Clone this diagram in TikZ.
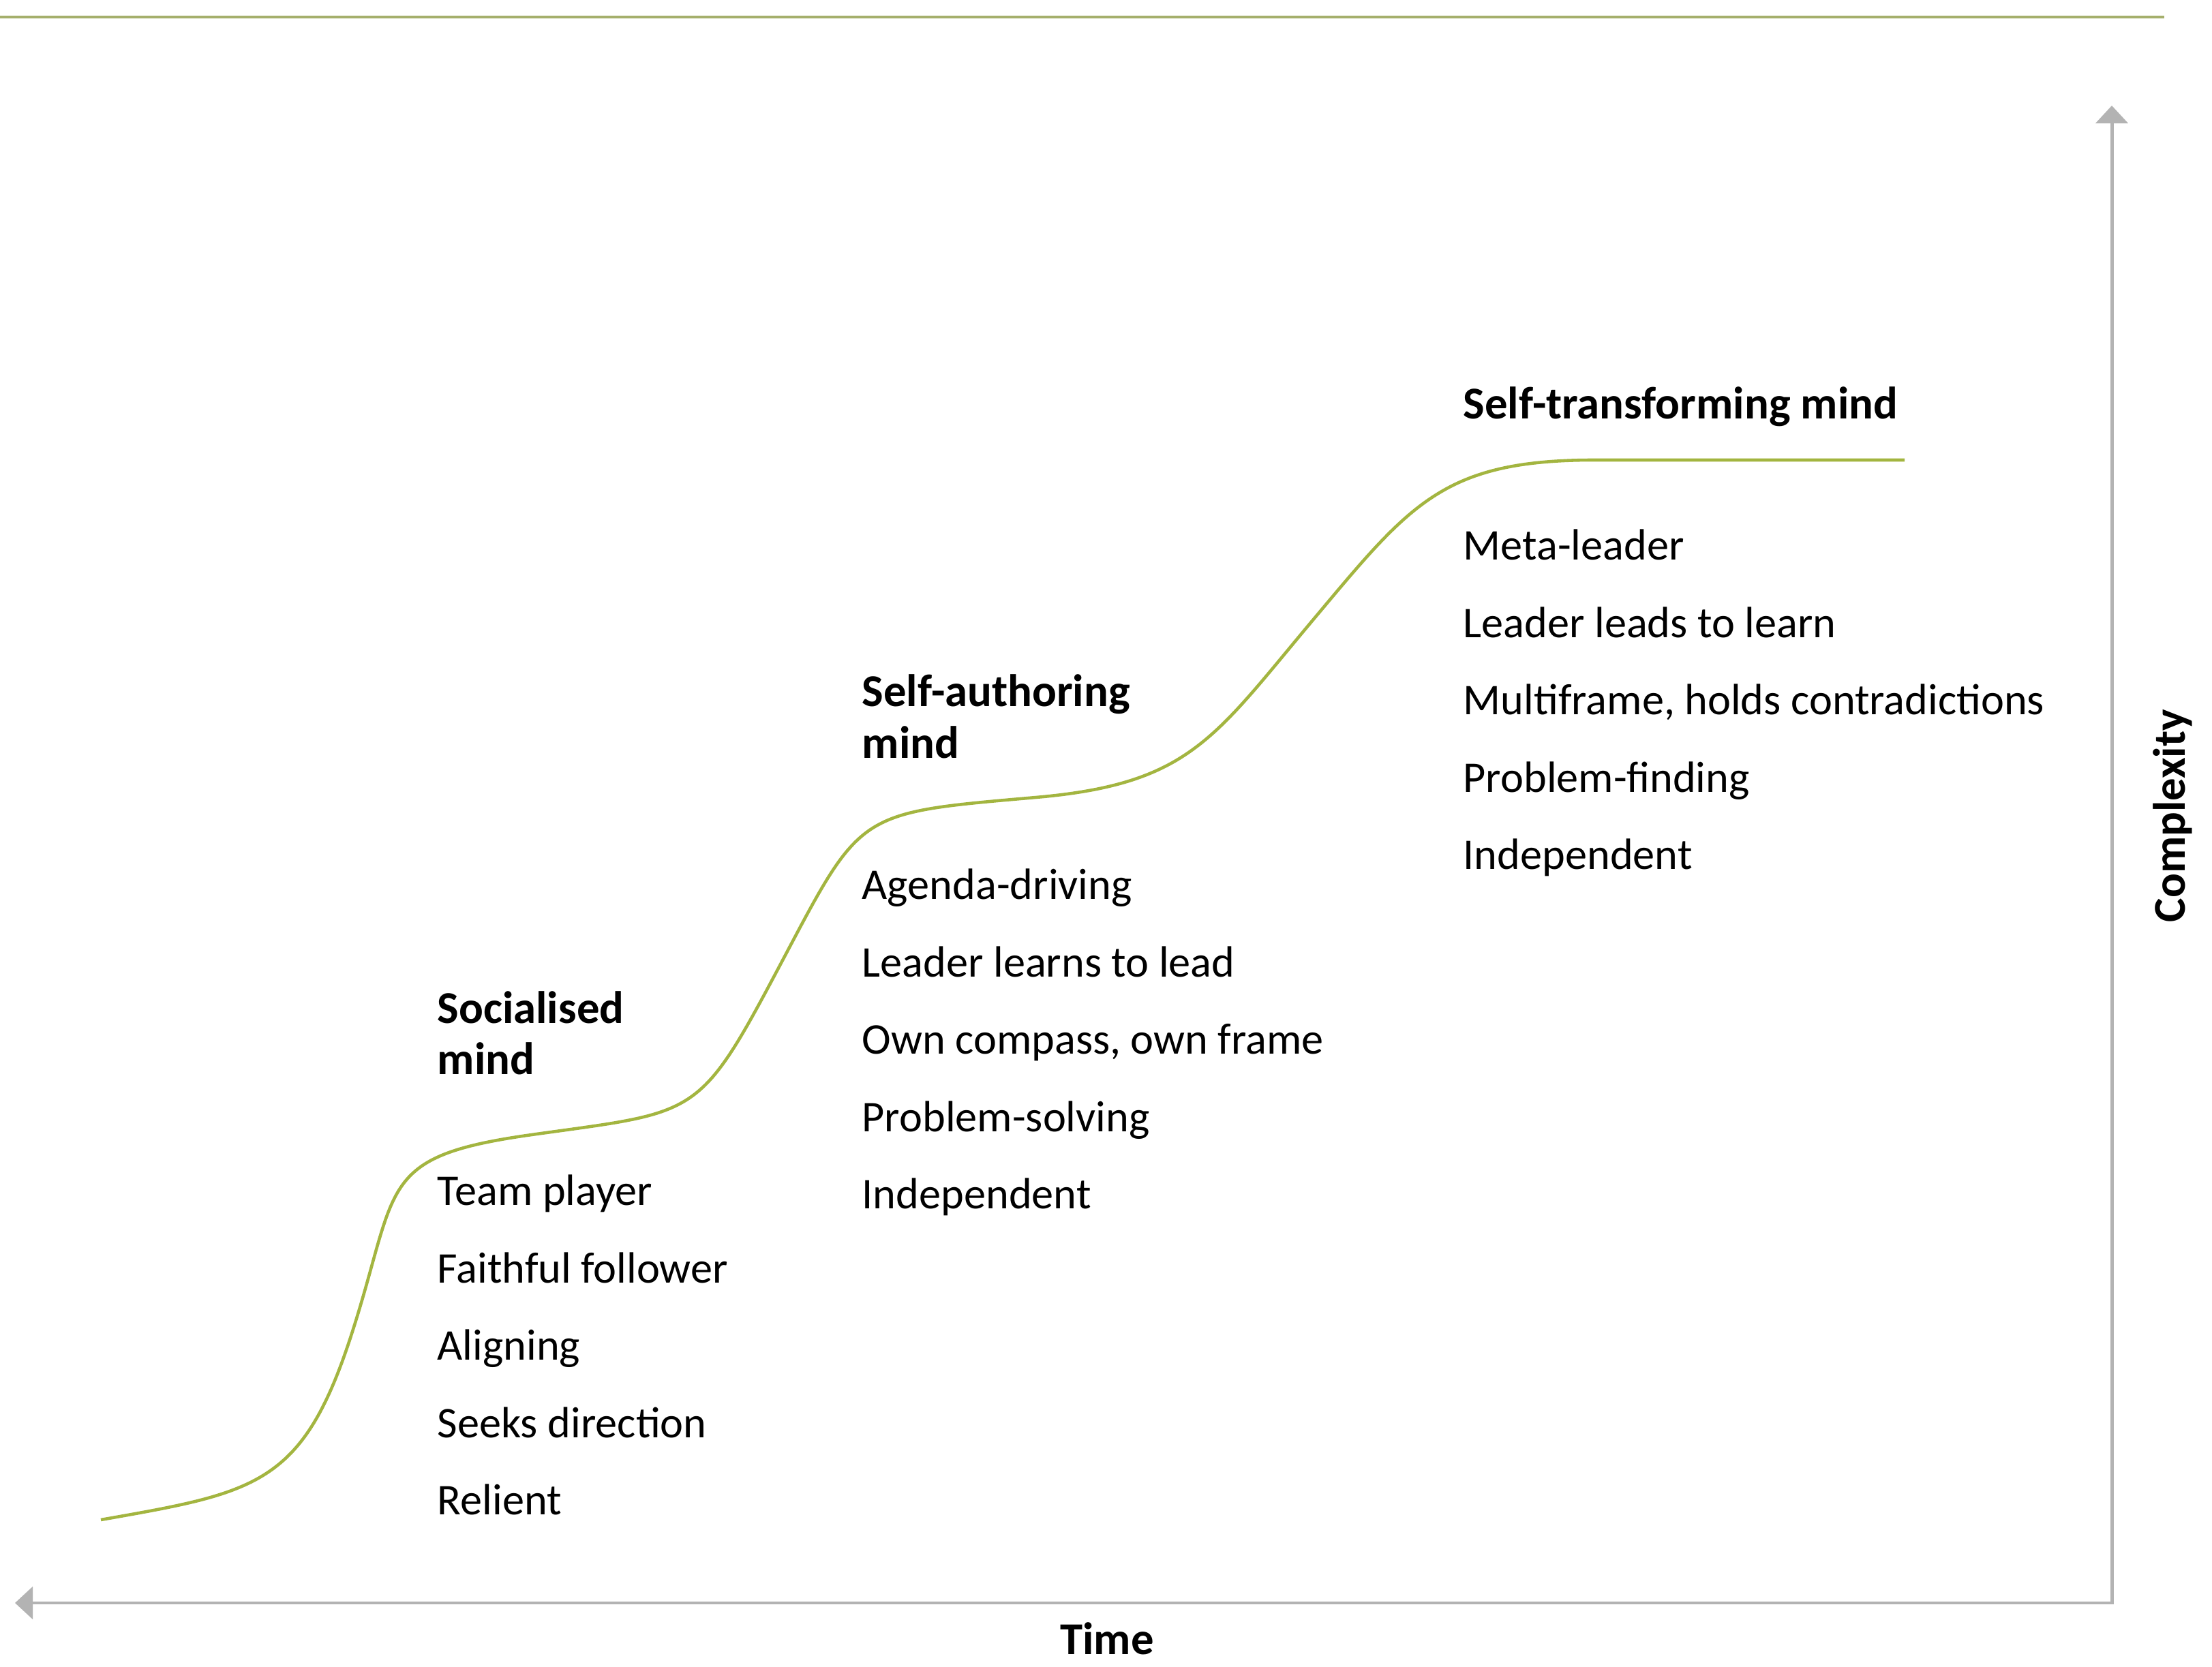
\documentclass[tikz,border=0pt]{standalone}
\usepackage{fontspec}
\setmainfont{Carlito}
\usepackage{tikz}
\usetikzlibrary{positioning, arrows.meta}
\definecolor{curve}{HTML}{A3B540}
\definecolor{rule}{HTML}{A5AF6C}
\definecolor{axisgray}{HTML}{B3B3B3}

\begin{document}
\begin{tikzpicture}[
    every node/.style={font=\fontsize{18.3}{22}\selectfont, inner sep=0pt},
    head/.style={anchor=base west, font=\bfseries\fontsize{19}{22}\selectfont},
    item/.style={anchor=base west},
    axis/.style={color=axisgray, line width=1.4pt,
      >={Triangle[width=4.7mm, length=2.6mm]}}]

  \useasboundingbox (0,0) rectangle (32.45,24.45);

  % rule along the top
  \coordinate (ruleL) at (0,24.20);
  \coordinate (ruleR) at (31.75,24.20);
  \draw[rule, line width=1.1pt] (ruleL) -- (ruleR);

  % axes
  \coordinate (origin) at (30.98,0.93);
  \coordinate (xend) at (0.22,0.93);
  \coordinate (yend) at (30.98,22.90);
  \draw[axis, <->] (xend) -- (origin) -- (yend);
  \node[head, anchor=base] (time) at (16.24,0.18) {Time};
  \node[head, rotate=90, anchor=base] (cpx) at (32.05,12.48) {Complexity};

  % growth curve, three steps
  \draw[curve, line width=1.3pt] (1.48,2.15)
    to[out=10, in=252, looseness=1.3] (5.15,4.85)
    to[out=72, in=188, looseness=1.5] (7.80,7.80)
    to[out=8, in=242, looseness=1.45] (11.38,10.17)
    to[out=62, in=185, looseness=1.5] (15.20,12.75)
    to[out=5, in=230, looseness=1.2] (19.25,15.34)
    to[out=50, in=180, looseness=1.2] (23.40,17.70)
    -- (27.94,17.70);

  % socialised
  \node[head] (soc) at (6.41,9.43) {Socialised};
  \node[head] (socb) at (6.41,8.68) {mind};
  \foreach \t [count=\i] in {Team player, Faithful follower, Aligning,
      Seeks direction, Relient}
    \node[item] (soc\i) at (6.41,{6.76-(\i-1)*1.135}) {\t};

  % self-authoring
  \node[head] (auth) at (12.64,14.08) {Self-authoring};
  \node[head] (authb) at (12.64,13.32) {mind};
  \foreach \t [count=\i] in {Agenda-driving, Leader learns to lead,
      {Own compass, own frame}, Problem-solving, Independent}
    \node[item] (auth\i) at (12.64,{11.25-(\i-1)*1.135}) {\t};

  % self-transforming
  \node[head] (trans) at (21.46,18.30) {Self-transforming mind};
  \foreach \t [count=\i] in {Meta-leader, Leader leads to learn,
      {Multiframe, holds contradictions}, Problem-finding, Independent}
    \node[item] (trans\i) at (21.46,{16.23-(\i-1)*1.135}) {\t};
\end{tikzpicture}
\end{document}
